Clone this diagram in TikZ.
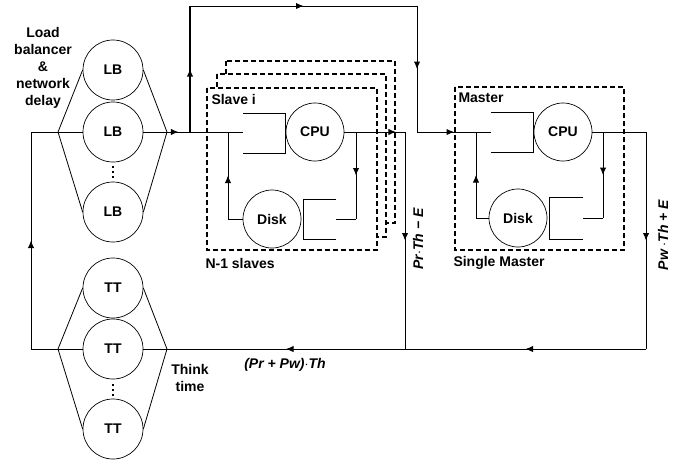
\documentclass[tikz,border=0pt]{standalone}
\usepackage{fontspec}
\setmainfont{Liberation Sans}
\usetikzlibrary{positioning,arrows.meta,decorations.markings}

\tikzset{
  flow/.style={postaction={decorate,decoration={markings,
      mark=at position #1 with {\arrow{Latex[length=7.5pt,width=6.5pt]}}}}},
  flow/.default=0.5
}

\begin{document}
\begin{tikzpicture}[x=1pt,y=-1pt,line width=1pt,
    every node/.style={font=\fontsize{14}{17}\selectfont\bfseries},
    srv/.style={circle,draw,line width=0.7pt,minimum size=60pt,inner sep=0pt},
    unit/.style={srv,minimum size=58pt},
    slavebox/.style={draw,dash pattern=on 5pt off 3pt,line width=1.3pt,fill=white},
    lbl/.style={inner sep=0pt},
    rate/.style={inner sep=0pt,font=\fontsize{14}{17}\selectfont\bfseries\itshape}]
    \useasboundingbox (0,0) rectangle (678,461);

    \node[srv] (lb1) at (113,70) {LB};
    \node[srv] (lb2) at (113,132) {LB};
    \node[srv] (lb3) at (113,212) {LB};
    \node[srv] (tt1) at (113,288) {TT};
    \node[srv] (tt2) at (113,349) {TT};
    \node[srv] (tt3) at (113,429) {TT};
    \foreach \y in {167,172,177,385,390,395}
        \fill (111.8,\y-1.2) rectangle (114.2,\y+1.2);

    \coordinate (lbin) at (58,132);
    \coordinate (lbout) at (167,132);
    \coordinate (ttin) at (58,349);
    \coordinate (ttout) at (167,349);
    \draw[line width=0.8pt] (lb1.west) -- (lbin) -- (lb3.west);
    \draw[line width=0.8pt] (lb1.east) -- (lbout) -- (lb3.east);
    \draw[line width=0.8pt] (tt1.west) -- (ttin) -- (tt3.west);
    \draw[line width=0.8pt] (tt1.east) -- (ttout) -- (tt3.east);
    \draw (lbin) -- (lb2) (lb2) -- (lbout);
    \draw (ttin) -- (tt2) (tt2) -- (ttout);

    \draw[slavebox] (226,61) rectangle (395,223);
    \draw[slavebox] (217,74) rectangle (386,237);
    \draw[slavebox] (207,88) rectangle (377,250);
    \draw[slavebox] (455,87) rectangle (624,250);

    \node[lbl,anchor=west] (slvi) at (211,99) {Slave i};
    \node[lbl,anchor=west] (slvs) at (205,263) {N-1 slaves};
    \node[lbl,anchor=west] (mst) at (458,98) {Master};
    \node[lbl,anchor=west] (smst) at (453,263) {Single Master};

    \node[unit] (scpu) at (315,132) {CPU};
    \node[unit] (sdisk) at (272,219) {Disk};
    \draw[line width=0.8pt] (243,113) -| (285,153) -- (243,153);
    \draw[line width=0.8pt] (336,199) -| (303,239) -- (336,239);

    \node[unit] (mcpu) at (563,132) {CPU};
    \node[unit] (mdisk) at (518,218) {Disk};
    \draw[line width=0.8pt] (491,112) -| (533,152) -- (491,152);
    \draw[line width=0.8pt] (583,197) -| (549,239) -- (583,239);

    \coordinate (sin) at (243,132);
    \coordinate (up) at (190,132);
    \coordinate (tl) at (190,6);
    \coordinate (tr) at (417,6);
    \coordinate (mj) at (417,132);
    \coordinate (min) at (491,132);
    \draw[flow=0.15] (lbout) -- (sin);
    \draw[flow,line width=1.4pt] (up) -- (tl);
    \draw[flow] (tl) -- (tr);
    \draw[flow] (tr) -- (mj);
    \draw[flow] (mj) -- (min);

    \coordinate (sfj) at (228,132);
    \coordinate (sfb) at (228,219);
    \coordinate (sbr) at (356,132);
    \coordinate (sbd) at (356,219);
    \coordinate (sdq) at (336,219);
    \coordinate (sout) at (405,132);
    \coordinate (sdown) at (405,349);
    \draw (sdisk) -- (sfb);
    \draw[flow] (sfb) -- (sfj);
    \draw[flow=0.85] (scpu) -- (sout);
    \draw[flow] (sbr) -- (sbd);
    \draw (sbd) -- (sdq);

    \coordinate (mfj) at (476,132);
    \coordinate (mfb) at (476,218);
    \coordinate (mbr) at (603,132);
    \coordinate (mbd) at (603,218);
    \coordinate (mdq) at (583,218);
    \coordinate (mout) at (646,132);
    \coordinate (mdown) at (646,349);
    \draw (mdisk) -- (mfb);
    \draw[flow] (mfb) -- (mfj);
    \draw (mcpu) -- (mout);
    \draw[flow] (mbr) -- (mbd);
    \draw (mbd) -- (mdq);

    \draw[flow] (sout) -- (sdown);
    \draw[flow] (mout) -- (mdown);
    \draw[flow] (mdown) -- (sdown);
    \draw[flow] (sdown) -- (ttout);

    \coordinate (ttleft) at (31,349);
    \coordinate (lbleft) at (31,132);
    \draw (ttin) -- (ttleft);
    \draw[flow] (ttleft) -- (lbleft);
    \draw (lbleft) -- (lbin);

    \node[rate,rotate=90] (prth) at (418,239) {Pr$\cdot$Th − E};
    \node[rate,rotate=90] (pwth) at (663,235) {Pw $\cdot$Th + E};
    \node[rate] (prpw) at (285,365) {(Pr + Pw)$\cdot$Th};
    \node[align=center] (think) at (190,378) {Think\\time};
    \node[align=center] (lbtxt) at (43,68) {Load\\balancer\\\&\\network\\delay};
\end{tikzpicture}
\end{document}
